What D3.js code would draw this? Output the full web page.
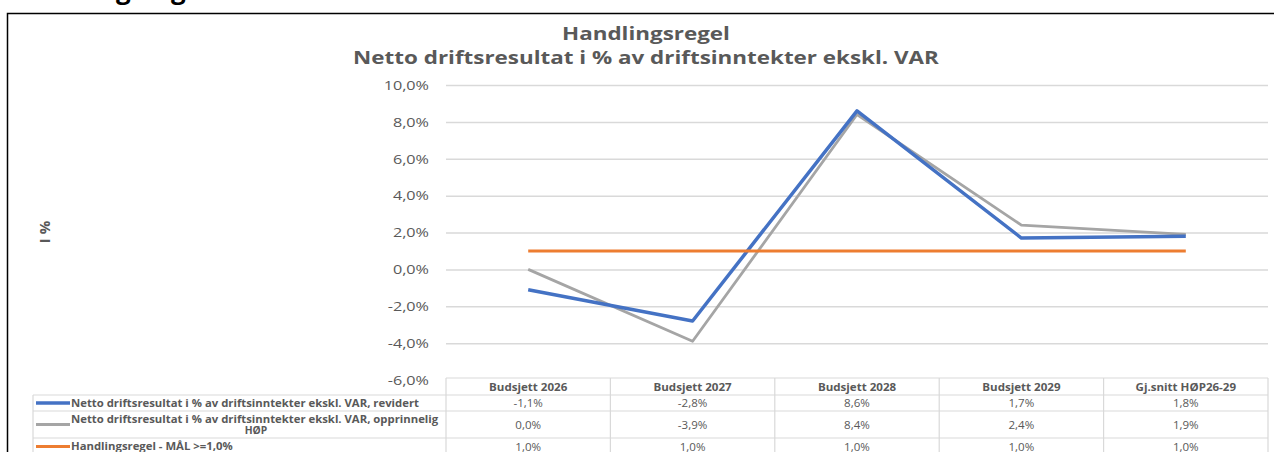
<!DOCTYPE html>
<html>
<head>
<meta charset="utf-8">
<script src="https://cdn.jsdelivr.net/npm/d3@7"></script>
<style>
  body { margin: 0; background: #fff; }
  svg { display: block; }
  text { font-family: "Open Sans", Lato, sans-serif; }
</style>
</head>
<body>
<div id="chart"></div>
<script>
// data (values in percent)
var categories  = ["Budsjett 2026", "Budsjett 2027", "Budsjett 2028", "Budsjett 2029", "Gj.snitt HØP26-29"];
var revidert    = [-1.1, -2.8, 8.6, 1.7, 1.8];
var opprinnelig = [0.0, -3.9, 8.4, 2.4, 1.9];
var maal        = [1.0, 1.0, 1.0, 1.0, 1.0];
var yTicks      = [-6, -4, -2, 0, 2, 4, 6, 8, 10];

var seriesNames = [
  ["Netto driftsresultat i % av driftsinntekter ekskl. VAR, revidert"],
  ["Netto driftsresultat i % av driftsinntekter ekskl. VAR, opprinnelig", "HØP"],
  ["Handlingsregel - MÅL >=1,0%"]
];
var titleLines = ["Handlingsregel", "Netto driftsresultat i % av driftsinntekter ekskl. VAR"];
var yTitle = "I %";

var series = [
  {values: revidert,    color: "#4472C4", width: 3.5},
  {values: opprinnelig, color: "#A5A5A5", width: 2.8},
  {values: maal,        color: "#ED7D31", width: 3}
];

var width = 1274, height = 452;
var textCol = "#595959", gridCol = "#D9D9D9";

// the screenshot is a bit stretched sideways, widen text to match
function stretch(sel, k) {
  sel.each(function () {
    var w = this.getComputedTextLength();
    d3.select(this).attr("textLength", w * k).attr("lengthAdjust", "spacingAndGlyphs");
  });
}

// norwegian number format
var no = d3.formatLocale({decimal: ",", thousands: " ", grouping: [3], currency: ["", " kr"], minus: "-"});
var fmt = no.format(".1f");
function pct(v) { return fmt(v) + "%"; }

var svg = d3.select("#chart").append("svg")
    .attr("width", width)
    .attr("height", height);

// heading of the page, cut off at the top
svg.append("text")
    .attr("x", 14).attr("y", -1.5)
    .attr("font-size", 26).attr("font-weight", "bold")
    .attr("fill", "#000")
    .text("Handlingsregel");

// chart frame
svg.append("path")
    .attr("d", "M7.5," + (height + 5) + "V13.5H" + (width + 5))
    .attr("fill", "none").attr("stroke", "#000").attr("stroke-width", 1.5);

// scales
var x = d3.scaleBand().domain(categories).range([446, 1268]);
var y = d3.scaleLinear().domain([-6, 10]).range([380, 85]);
var cx = function (d, i) { return x(categories[i]) + x.bandwidth() / 2; };

// title
svg.append("g").selectAll("text")
    .data(titleLines)
    .join("text")
    .attr("x", 646)
    .attr("y", function (d, i) { return 40 + i * 24; })
    .attr("text-anchor", "middle")
    .attr("font-size", 17.5).attr("font-weight", "bold")
    .attr("fill", textCol)
    .text(function (d) { return d; })
    .call(stretch, 1.28);

// y axis title
svg.append("text")
    .attr("transform", "translate(50,232) rotate(-90)")
    .attr("text-anchor", "middle")
    .attr("font-size", 15).attr("font-weight", "bold")
    .attr("fill", textCol)
    .text(yTitle);

// gridlines + labels
var yAxis = d3.axisLeft(y)
    .tickValues(yTicks)
    .tickSize(-(1268 - 446))
    .tickPadding(17)
    .tickFormat(pct);

var gy = svg.append("g")
    .attr("transform", "translate(446,0)")
    .call(yAxis);
gy.select(".domain").remove();
gy.selectAll(".tick line").attr("stroke", gridCol).attr("stroke-width", 1.5)
    .filter(function (d) { return d === -6; }).remove();
gy.selectAll(".tick text")
    .attr("fill", textCol).attr("font-size", 13.5).attr("font-family", "'Open Sans', sans-serif")
    .call(stretch, 1.2);

// lines
var line = d3.line()
    .x(cx)
    .y(function (d) { return y(d); });

svg.append("g").selectAll("path")
    .data([series[1], series[0], series[2]])
    .join("path")
    .attr("d", function (s) { return line(s.values); })
    .attr("fill", "none")
    .attr("stroke", function (s) { return s.color; })
    .attr("stroke-width", function (s) { return s.width; })
    .attr("stroke-linejoin", "round");

// data table under the chart
var rowTops = [378, 395, 411, 438, 460];
var tableLeft = 33, tableRight = 1268;
var tbl = svg.append("g").attr("stroke", gridCol).attr("stroke-width", 1.2).attr("fill", "none");

// header top
tbl.append("line").attr("x1", 446).attr("x2", tableRight).attr("y1", rowTops[0]).attr("y2", rowTops[0]);
// row lines
rowTops.slice(1, 4).forEach(function (ry) {
  tbl.append("line").attr("x1", tableLeft).attr("x2", tableRight).attr("y1", ry).attr("y2", ry);
});
// vertical lines
tbl.append("line").attr("x1", tableLeft).attr("x2", tableLeft).attr("y1", rowTops[1]).attr("y2", height);
categories.forEach(function (c) {
  tbl.append("line").attr("x1", x(c)).attr("x2", x(c)).attr("y1", rowTops[0]).attr("y2", height);
});
tbl.append("line").attr("x1", tableRight).attr("x2", tableRight).attr("y1", rowTops[0]).attr("y2", height);

// header texts
svg.append("g").selectAll("text")
    .data(categories)
    .join("text")
    .attr("x", function (d) { return x(d) + x.bandwidth() / 2; })
    .attr("y", (rowTops[0] + rowTops[1]) / 2 + 4)
    .attr("text-anchor", "middle")
    .attr("font-size", 10.5).attr("font-weight", "bold")
    .attr("fill", textCol)
    .text(function (d) { return d; })
    .call(stretch, 1.1);

// rows
var rowMid = [403, 424.5, 446.5];
series.forEach(function (s, r) {
  var g = svg.append("g");
  g.append("line")
      .attr("x1", 36).attr("x2", 70)
      .attr("y1", rowMid[r]).attr("y2", rowMid[r])
      .attr("stroke", s.color).attr("stroke-width", s.width);

  var lbl = seriesNames[r];
  var txt;
  if (lbl.length === 1) {
    txt = g.append("text")
        .attr("x", 71).attr("y", rowMid[r] + 3.5)
        .text(lbl[0]);
  } else {
    txt = g.append("text")
        .attr("x", 71).attr("y", rowMid[r] - 2)
        .text(lbl[0]);
    g.append("text")
        .attr("x", 256).attr("y", rowMid[r] + 9.5)
        .attr("text-anchor", "middle")
        .attr("font-size", 10.3).attr("font-weight", "bold")
        .attr("fill", textCol)
        .text(lbl[1]);
  }
  txt.attr("font-size", 10.3).attr("font-weight", "bold")
      .attr("fill", textCol)
      .call(stretch, 1.1);

  g.selectAll(".val")
      .data(s.values)
      .join("text")
      .attr("class", "val")
      .attr("x", cx)
      .attr("y", rowMid[r] + 4)
      .attr("text-anchor", "middle")
      .attr("font-size", 10.5)
      .attr("fill", textCol)
      .text(pct)
      .call(stretch, 1.1);
});
</script>
</body>
</html>
